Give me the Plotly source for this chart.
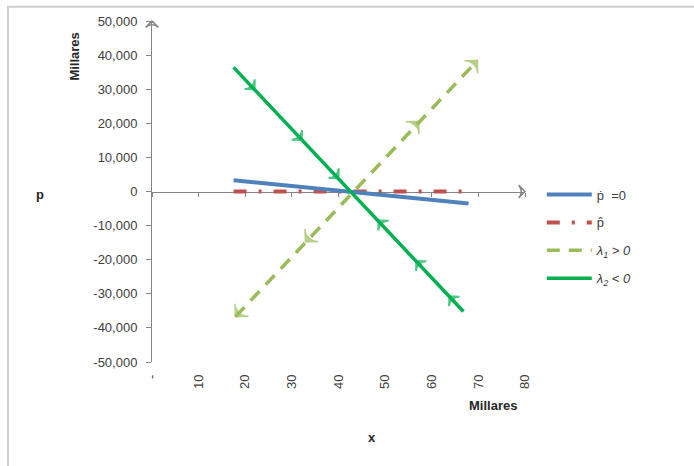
import plotly.graph_objects as go

# ---------------- data (x in thousands, p in thousands) ----------------
x_tick_vals = [0, 10, 20, 30, 40, 50, 60, 70, 80]
x_tick_text = ["-", "10", "20", "30", "40", "50", "60", "70", "80"]
y_tick_vals = [50000, 40000, 30000, 20000, 10000, 0, -10000, -20000, -30000, -40000, -50000]
y_tick_text = ["50,000", "40,000", "30,000", "20,000", "10,000", "0",
               "-10,000", "-20,000", "-30,000", "-40,000", "-50,000"]

X_MAX = 80
Y_MIN, Y_MAX = -50000, 50000

# p-dot = 0 isocline
pdot_x = [17.5, 67.9]
pdot_y = [3300, -3500]

# p-hat
phat_x = [17.5, 66.5]
phat_y = [0, 0]

# unstable eigen-direction (lambda1 > 0)
lam1_x = [17.9, 69.8]
lam1_y = [-36700, 38400]

# stable eigen-direction (lambda2 < 0)
lam2_x = [17.5, 66.8]
lam2_y = [36400, -35200]

# equilibrium
eq_x, eq_y = 42.8, -300

# arrow positions along the eigen-directions (order = direction of motion)
lam1_low_x = [eq_x, 32.9, lam1_x[0]]
lam1_low_y = [eq_y, -14800, lam1_y[0]]
lam1_up_x = [eq_x, 57.2, lam1_x[1]]
lam1_up_y = [eq_y, 20600, lam1_y[1]]

lam2_up_x = [lam2_x[0], 22.0, 32.1, 40.0]
lam2_up_y = [lam2_y[0], 30000, 15100, 3900]
lam2_low_x = [lam2_x[1], 63.8, 56.7, 48.6]
lam2_low_y = [lam2_y[1], -30700, -20400, -8500]

# ---------------- styles ----------------
BLUE = "#4f81bd"
RED = "#c0504d"
LGREEN = "#9bbb59"
GREEN = "#00b050"
AXIS = "#868686"
TXT = "#404040"
FONT = "Liberation Sans, Arial, sans-serif"

fig = go.Figure()

common = dict(xaxis="x", yaxis="y", hoverinfo="skip")

# empty helper trace so the mid-height x axis line (x2) is drawn
fig.add_trace(go.Scatter(x=[0], y=[None], xaxis="x2", yaxis="y", mode="lines",
                         showlegend=False, hoverinfo="skip"))

fig.add_trace(go.Scatter(x=phat_x, y=phat_y, mode="lines", name="p̂",
                         line=dict(color=RED, width=4, dash="13px,12px,3px,12px"),
                         legendgroup="b", legendrank=2, **common))
fig.add_trace(go.Scatter(x=pdot_x, y=pdot_y, mode="lines", name="ṗ  =0",
                         line=dict(color=BLUE, width=4), legendgroup="a",
                         legendrank=1, **common))
fig.add_trace(go.Scatter(x=lam1_x, y=lam1_y, mode="lines",
                         name="<i>λ<sub>1</sub> &gt; 0</i>",
                         line=dict(color=LGREEN, width=3.5, dash="13px,9px"),
                         legendgroup="c", legendrank=3, **common))
fig.add_trace(go.Scatter(x=lam2_x, y=lam2_y, mode="lines",
                         name="<i>λ<sub>2</sub> &lt; 0</i>",
                         line=dict(color=GREEN, width=3.5),
                         legendgroup="d", legendrank=4, **common))

# arrowheads on the unstable direction (filled)
for ax_, ay_ in [(lam1_low_x, lam1_low_y), (lam1_up_x, lam1_up_y)]:
    fig.add_trace(go.Scatter(
        x=ax_, y=ay_, mode="markers", showlegend=False, cliponaxis=False,
        marker=dict(symbol="arrow-wide", angleref="previous",
                    size=[0] + [13] * (len(ax_) - 1), color=LGREEN,
                    line=dict(width=1.5, color=LGREEN)),
        **common))

# arrowheads on the stable direction (open chevrons)
for ax_, ay_ in [(lam2_up_x, lam2_up_y), (lam2_low_x, lam2_low_y)]:
    fig.add_trace(go.Scatter(
        x=ax_, y=ay_, mode="markers", showlegend=False, cliponaxis=False,
        marker=dict(symbol="arrow-wide-open", angleref="previous",
                    size=[0] + [10] * (len(ax_) - 1), color=GREEN,
                    line=dict(width=2, color=GREEN)),
        **common))

# axis-end arrowheads
fig.add_trace(go.Scatter(
    x=[0, X_MAX], y=[Y_MAX, 0], mode="markers", showlegend=False, cliponaxis=False,
    marker=dict(symbol="arrow-wide-open", angle=[0, 90], size=9, color=AXIS,
                line=dict(width=1.5, color=AXIS)),
    **common))

fig.update_layout(
    width=694, height=466,
    margin=dict(l=152, r=169, t=21, b=104),
    paper_bgcolor="white", plot_bgcolor="white",
    font=dict(family=FONT, size=13, color=TXT),
    xaxis=dict(range=[0, X_MAX], tickvals=x_tick_vals, ticktext=x_tick_text,
               tickangle=-90, showline=False, showgrid=False, zeroline=False,
               ticks="", ticklabelstandoff=9, tickfont=dict(size=13, color=TXT),
               fixedrange=True),
    xaxis2=dict(range=[0, X_MAX], overlaying="x", anchor="free", position=0.5,
                side="bottom", showline=True, linecolor=AXIS, linewidth=1,
                ticks="outside", ticklen=4, tickcolor=AXIS, tickvals=x_tick_vals,
                showticklabels=False, showgrid=False, zeroline=False,
                layer="below traces", fixedrange=True),
    yaxis=dict(range=[Y_MIN, Y_MAX], tickvals=y_tick_vals, ticktext=y_tick_text,
               showline=True, linecolor=AXIS, linewidth=1, ticks="outside",
               ticklen=5, tickcolor=AXIS, showgrid=False, zeroline=False,
               ticklabelstandoff=6, tickfont=dict(size=13, color=TXT),
               layer="below traces", fixedrange=True),
    legend=dict(x=1.045, y=0.535, xanchor="left", yanchor="top",
                font=dict(size=13, color=TXT), itemwidth=45,
                tracegroupgap=8, bgcolor="rgba(0,0,0,0)"),
    showlegend=True,
)

# axis titles / unit labels
ann = dict(xref="paper", yref="paper", showarrow=False,
           xanchor="center", yanchor="middle",
           font=dict(size=13, color="#262626"))
fig.add_annotation(text="<b>Millares</b>", x=-0.207, y=0.895, textangle=-90, **ann)
fig.add_annotation(text="<b>p</b>", x=-0.30, y=0.49, **ann)
fig.add_annotation(text="<b>Millares</b>", x=0.915, y=-0.128, **ann)
fig.add_annotation(text="<b>x</b>", x=0.59, y=-0.222, **ann)

# chart-area border
fig.add_shape(type="rect", xref="paper", yref="paper",
              x0=-0.386, x1=1.5, y0=-0.6, y1=1.042,
              line=dict(color="#cfcfcf", width=2), fillcolor="rgba(0,0,0,0)",
              layer="below")

fig.write_html("out.html",
               config={"displayModeBar": False, "staticPlot": True},
               post_script="document.body.style.margin='0px';"
                           "document.body.style.overflow='hidden';")
